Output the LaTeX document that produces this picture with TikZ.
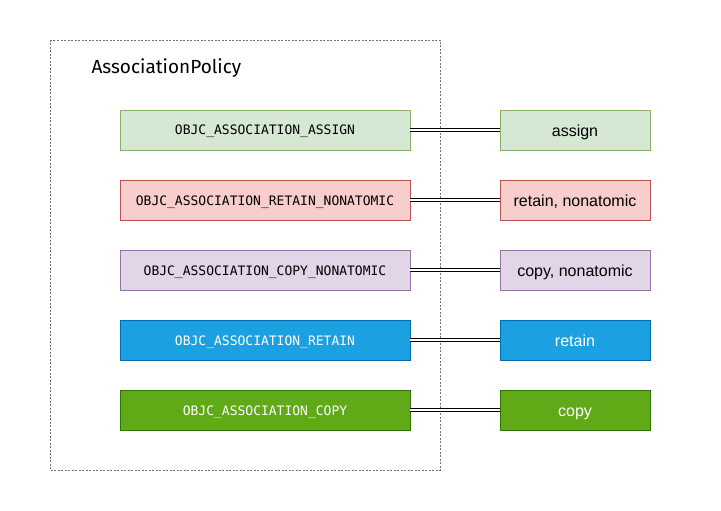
\documentclass[tikz,border=0pt]{standalone}
\usepackage{fontspec}
\setmainfont{Liberation Sans}
\newfontfamily\monofont{DejaVu Sans Mono}
\newfontfamily\titlefont{Fira Sans}

\definecolor{greenfill}{HTML}{D5E8D4}
\definecolor{greenline}{HTML}{82B366}
\definecolor{redfill}{HTML}{F8CECC}
\definecolor{redline}{HTML}{B85450}
\definecolor{purplefill}{HTML}{E1D5E7}
\definecolor{purpleline}{HTML}{9673A6}
\definecolor{bluefill}{HTML}{1BA1E2}
\definecolor{blueline}{HTML}{006EAF}
\definecolor{darkgreenfill}{HTML}{60A917}
\definecolor{darkgreenline}{HTML}{2D7600}

\tikzset{
  policy/.style={draw, line width=0.8pt, minimum width=290pt, minimum height=40pt,
    inner sep=0pt, text height=12pt, text depth=2pt,
    font=\monofont\fontsize{13}{15}\selectfont},
  attr/.style={draw, line width=0.8pt, minimum width=150pt, minimum height=40pt,
    inner sep=0pt, text height=15pt, text depth=3pt,
    font=\fontsize{16}{18}\selectfont},
  link/.style={draw=black, double=white, double distance=2.6pt, line width=1pt},
  lightgreen/.style={fill=greenfill, draw=greenline},
  lightred/.style={fill=redfill, draw=redline},
  lightpurple/.style={fill=purplefill, draw=purpleline},
  solidblue/.style={fill=bluefill, draw=blueline, text=white},
  solidgreen/.style={fill=darkgreenfill, draw=darkgreenline, text=white}
}

\begin{document}
\begin{tikzpicture}[x=1pt, y=-1pt]
    \useasboundingbox (0,0) rectangle (721,511);

    % Draw container
    \draw[gray!90!black, line width=0.6pt, dash pattern=on 2pt off 1.5pt] (50,40) rectangle (440,470);
    \node[anchor=west, font=\titlefont\fontsize{19}{21}\selectfont] (title) at (88,68) {AssociationPolicy};

    % Draw policies
    \node[policy, lightgreen]  (assign)   at (265,130) {OBJC\_ASSOCIATION\_ASSIGN};
    \node[policy, lightred]    (retainna) at (265,200) {OBJC\_ASSOCIATION\_RETAIN\_NONATOMIC};
    \node[policy, lightpurple] (copyna)   at (265,270) {OBJC\_ASSOCIATION\_COPY\_NONATOMIC};
    \node[policy, solidblue]   (retain)   at (265,340) {OBJC\_ASSOCIATION\_RETAIN};
    \node[policy, solidgreen]  (copy)     at (265,410) {OBJC\_ASSOCIATION\_COPY};

    % Draw attributes
    \node[attr, lightgreen]  (assign-attr)   at (575,130) {assign};
    \node[attr, lightred]    (retainna-attr) at (575,200) {retain, nonatomic};
    \node[attr, lightpurple] (copyna-attr)   at (575,270) {copy, nonatomic};
    \node[attr, solidblue]   (retain-attr)   at (575,340) {retain};
    \node[attr, solidgreen]  (copy-attr)     at (575,410) {copy};

    % Draw links
    \foreach \p in {assign,retainna,copyna,retain,copy} {
        \draw[link] (\p.east) -- (\p-attr.west);
    }
\end{tikzpicture}
\end{document}
